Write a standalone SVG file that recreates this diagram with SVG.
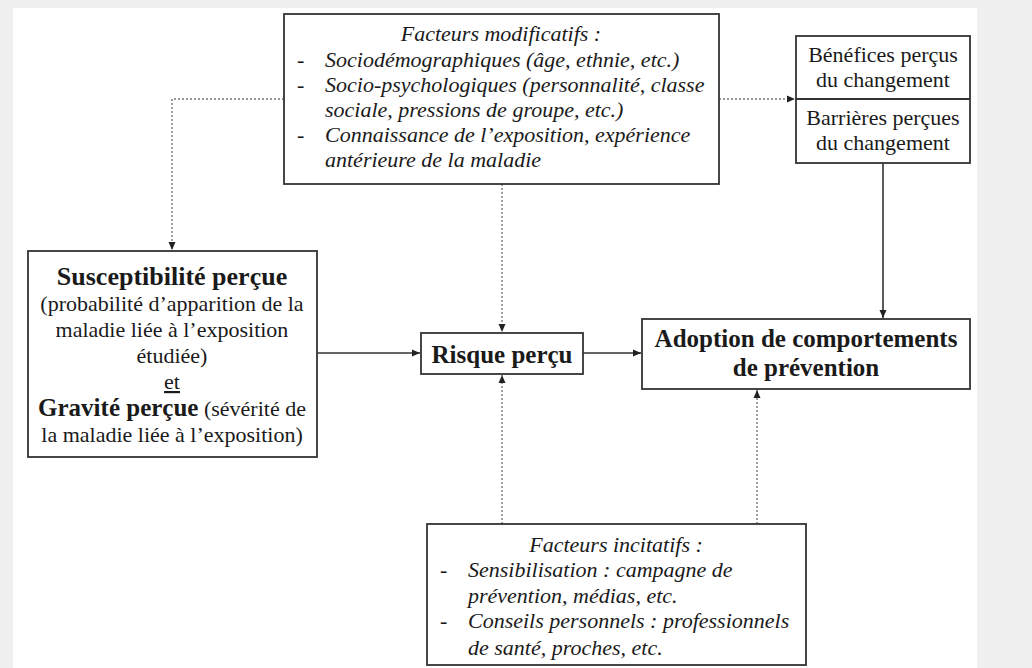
<svg xmlns="http://www.w3.org/2000/svg" width="1032" height="668" viewBox="0 0 1032 668">
<style>
.box{fill:#fff;stroke:#333;stroke-width:1.8}
.t{font-family:"Liberation Serif","Times New Roman",serif;font-size:22px;fill:#1a1a1a}
.i{font-style:italic}
.b{font-weight:bold;font-size:25px}
.mid{text-anchor:middle}
.solid{stroke:#333;stroke-width:1.6;fill:none}
.dot{stroke:#777;stroke-width:1.4;stroke-dasharray:2 2;fill:none}
</style>
<defs>
<marker id="ah" viewBox="0 0 8 8" refX="8" refY="4" markerWidth="8" markerHeight="8" markerUnits="userSpaceOnUse" orient="auto">
<path d="M0,0.5 L8,4 L0,7.5 z" fill="#222"/>
</marker>
</defs>
<rect x="0" y="0" width="1032" height="668" fill="#f0f0f0"/>
<rect x="13" y="8" width="964" height="660" fill="#fff"/>

<g id="connectors">
<polyline class="dot" points="284,99 172,99 172,250" marker-end="url(#ah)"/>
<line class="dot" x1="719" y1="99" x2="795" y2="99" marker-end="url(#ah)"/>
<line class="dot" x1="502" y1="184" x2="502" y2="332" marker-end="url(#ah)"/>
<line class="dot" x1="502" y1="524" x2="502" y2="375" marker-end="url(#ah)"/>
<line class="dot" x1="757" y1="524" x2="757" y2="390" marker-end="url(#ah)"/>
<line class="solid" x1="883" y1="163" x2="883" y2="318" marker-end="url(#ah)"/>
<line class="solid" x1="317" y1="353" x2="420" y2="353" marker-end="url(#ah)"/>
<line class="solid" x1="583" y1="353" x2="641" y2="353" marker-end="url(#ah)"/>
</g>

<g id="facteurs-modificatifs">
<rect class="box" x="284" y="14" width="435" height="170"/>
<text class="t i mid" x="501" y="41">Facteurs modificatifs :</text>
<text class="t" x="297" y="67">-</text>
<text class="t i" x="325" y="67">Sociodémographiques (âge, ethnie, etc.)</text>
<text class="t" x="297" y="92">-</text>
<text class="t i" x="325" y="92">Socio-psychologiques (personnalité, classe</text>
<text class="t i" x="325" y="117">sociale, pressions de groupe, etc.)</text>
<text class="t" x="297" y="142">-</text>
<text class="t i" x="325" y="142">Connaissance de l’exposition, expérience</text>
<text class="t i" x="325" y="167">antérieure de la maladie</text>
</g>

<g id="benefices-barrieres">
<rect class="box" x="796" y="36" width="174" height="127"/>
<line x1="796" y1="99" x2="970" y2="99" stroke="#333" stroke-width="1.8"/>
<text class="t mid" x="883" y="62">Bénéfices perçus</text>
<text class="t mid" x="883" y="87">du changement</text>
<text class="t mid" x="883" y="125">Barrières perçues</text>
<text class="t mid" x="883" y="150">du changement</text>
</g>

<g id="susceptibilite">
<rect class="box" x="28" y="251" width="289" height="206"/>
<text class="t b mid" x="172" y="285" style="font-size:26px">Susceptibilité perçue</text>
<text class="t mid" x="172" y="311">(probabilité d’apparition de la</text>
<text class="t mid" x="172" y="337">maladie liée à l’exposition</text>
<text class="t mid" x="172" y="363">étudiée)</text>
<text class="t mid" x="172" y="389" text-decoration="underline">et</text>
<text class="t mid" x="172" y="416"><tspan class="b">Gravité perçue</tspan> (sévérité de</text>
<text class="t mid" x="172" y="442">la maladie liée à l’exposition)</text>
</g>

<g id="risque">
<rect class="box" x="421" y="333" width="162" height="41"/>
<text class="t b mid" x="502" y="363">Risque perçu</text>
</g>

<g id="adoption">
<rect class="box" x="642" y="319" width="328" height="70"/>
<text class="t b mid" x="806" y="347">Adoption de comportements</text>
<text class="t b mid" x="806" y="376">de prévention</text>
</g>

<g id="facteurs-incitatifs">
<rect class="box" x="427" y="524" width="379" height="141"/>
<text class="t i mid" x="616" y="552">Facteurs incitatifs :</text>
<text class="t" x="440" y="577">-</text>
<text class="t i" x="468" y="577">Sensibilisation : campagne de</text>
<text class="t i" x="468" y="603">prévention, médias, etc.</text>
<text class="t" x="440" y="628">-</text>
<text class="t i" x="468" y="628">Conseils personnels : professionnels</text>
<text class="t i" x="468" y="655">de santé, proches, etc.</text>
</g>
</svg>
